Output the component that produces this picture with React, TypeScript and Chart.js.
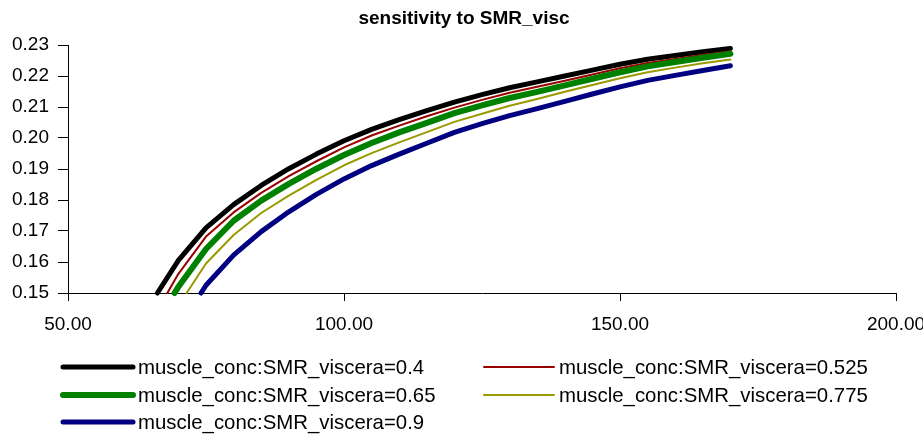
import React, { useEffect, useRef } from "react";
import { Chart, registerables } from "chart.js";

Chart.register(...registerables);

const TITLE = "sensitivity to SMR_visc";

const seriesNames = [
  "muscle_conc:SMR_viscera=0.4",
  "muscle_conc:SMR_viscera=0.525",
  "muscle_conc:SMR_viscera=0.65",
  "muscle_conc:SMR_viscera=0.775",
  "muscle_conc:SMR_viscera=0.9",
];

const xTickValues = [50, 100, 150, 200];
const yTickValues = [0.15, 0.16, 0.17, 0.18, 0.19, 0.2, 0.21, 0.22, 0.23];

const x04 = [66.2, 70, 75, 80, 85, 90, 95, 100, 105, 110, 115, 120, 125, 130, 135, 140, 145, 150, 155, 160, 165, 170];
const y04 = [0.15, 0.1605, 0.171, 0.1785, 0.1847, 0.1901, 0.1948, 0.1991, 0.2028, 0.2059, 0.2088, 0.2116, 0.214, 0.2162, 0.2181, 0.22, 0.2219, 0.2238, 0.2254, 0.2266, 0.2278, 0.2289];

const x0525 = [68.0, 70, 75, 80, 85, 90, 95, 100, 105, 110, 115, 120, 125, 130, 135, 140, 145, 150, 155, 160, 165, 170];
const y0525 = [0.15, 0.1562, 0.1682, 0.176, 0.1823, 0.1877, 0.1925, 0.197, 0.2008, 0.204, 0.207, 0.2098, 0.2123, 0.2146, 0.2165, 0.2185, 0.2205, 0.2225, 0.2242, 0.2255, 0.2268, 0.228];

const x065 = [69.3, 70, 75, 80, 85, 90, 95, 100, 105, 110, 115, 120, 125, 130, 135, 140, 145, 150, 155, 160, 165, 170];
const y065 = [0.15, 0.152, 0.1642, 0.1733, 0.1798, 0.1852, 0.1901, 0.1945, 0.1984, 0.2018, 0.2049, 0.208, 0.2105, 0.2129, 0.2149, 0.217, 0.2191, 0.2212, 0.2231, 0.2245, 0.2259, 0.2272];

const x0775 = [71.5, 75, 80, 85, 90, 95, 100, 105, 110, 115, 120, 125, 130, 135, 140, 145, 150, 155, 160, 165, 170];
const y0775 = [0.15, 0.1595, 0.1687, 0.1758, 0.1814, 0.1865, 0.1912, 0.1951, 0.1986, 0.2019, 0.2052, 0.2078, 0.2104, 0.2126, 0.2149, 0.2171, 0.2193, 0.2212, 0.2227, 0.2241, 0.2253];

const x09 = [74.1, 75, 80, 85, 90, 95, 100, 105, 110, 115, 120, 125, 130, 135, 140, 145, 150, 155, 160, 165, 170];
const y09 = [0.15, 0.1525, 0.1622, 0.1698, 0.1762, 0.1818, 0.1868, 0.1911, 0.1948, 0.1983, 0.2018, 0.2046, 0.2072, 0.2095, 0.2118, 0.2142, 0.2165, 0.2186, 0.2202, 0.2218, 0.2233];

const seriesX = [x04, x0525, x065, x0775, x09];
const seriesY = [y04, y0525, y065, y0775, y09];
const seriesColors = ["#000000", "#990000", "#008000", "#999900", "#000080"];
const seriesWidths = [5, 2, 6, 2, 5];

const FONT = '"Liberation Sans", Arial, sans-serif';

export default function App() {
  const ref = useRef<HTMLCanvasElement>(null);

  useEffect(() => {
    document.body.style.margin = "0";
    const canvas = ref.current!;

    const overlay = {
      id: "overlay",
      afterDraw(chart: any) {
        const c = chart.ctx as CanvasRenderingContext2D;
        c.save();
        c.fillStyle = "#000";
        c.font = `bold 19px ${FONT}`;
        c.textAlign = "center";
        c.textBaseline = "middle";
        c.fillText(TITLE, 464, 19);

        c.font = `20.4px ${FONT}`;
        c.textAlign = "left";
        const colX = [62, 483];
        const rowY = [367, 395, 422];
        seriesNames.forEach((name, i) => {
          const col = i % 2;
          const row = Math.floor(i / 2);
          const lx = colX[col];
          const ly = rowY[row];
          c.strokeStyle = seriesColors[i];
          c.lineWidth = seriesWidths[i];
          c.lineCap = "round";
          c.beginPath();
          c.moveTo(lx + 1, ly);
          c.lineTo(lx + 71, ly);
          c.stroke();
          c.fillText(name, lx + 76, ly + 1);
        });
        c.restore();
      },
    };

    const chart = new Chart(canvas, {
      type: "scatter",
      data: {
        datasets: seriesNames.map((name, i) => ({
          label: name,
          data: seriesX[i].map((x, j) => ({ x, y: seriesY[i][j] })),
          showLine: true,
          borderColor: seriesColors[i],
          backgroundColor: seriesColors[i],
          borderWidth: seriesWidths[i],
          borderCapStyle: "round",
          borderJoinStyle: "round",
          pointRadius: 0,
          tension: 0,
          clip: false,
          order: 4 - i,
        })),
      },
      options: {
        responsive: false,
        animation: false,
        layout: { padding: { top: 45, right: 27, left: 0, bottom: 0 } },
        plugins: {
          legend: { display: false },
          title: { display: false },
          tooltip: { enabled: false },
        },
        scales: {
          x: {
            type: "linear",
            min: 50,
            max: 200,
            afterBuildTicks: (s: any) => {
              s.ticks = xTickValues.map((v) => ({ value: v }));
            },
            ticks: {
              autoSkip: false,
              maxRotation: 0,
              color: "#000",
              font: { family: FONT, size: 19 },
              padding: 12,
              callback: (v: any) => Number(v).toFixed(2),
            },
            grid: { drawOnChartArea: false, drawTicks: true, tickLength: 8, color: "#000", tickColor: "#000" },
            border: { display: true, color: "#000", width: 1 },
            afterFit: (s: any) => {
              s.height = 143;
              s.paddingLeft = 0;
              s.paddingRight = 0;
            },
          },
          y: {
            type: "linear",
            min: 0.15,
            max: 0.23,
            afterBuildTicks: (s: any) => {
              s.ticks = yTickValues.map((v) => ({ value: v }));
            },
            ticks: {
              autoSkip: false,
              color: "#000",
              font: { family: FONT, size: 19 },
              padding: 9,
              callback: (v: any) => Number(v).toFixed(2),
            },
            grid: { drawOnChartArea: false, drawTicks: true, tickLength: 10, color: "#000", tickColor: "#000" },
            border: { display: true, color: "#000", width: 1 },
            afterFit: (s: any) => {
              s.width = 68;
            },
          },
        },
      },
      plugins: [overlay],
    } as any);

    return () => chart.destroy();
  }, []);

  return (
    <div style={{ width: 923, height: 436, position: "relative", background: "#fff" }}>
      <canvas ref={ref} width={923} height={436} style={{ display: "block", width: 923, height: 436 }} />
    </div>
  );
}
